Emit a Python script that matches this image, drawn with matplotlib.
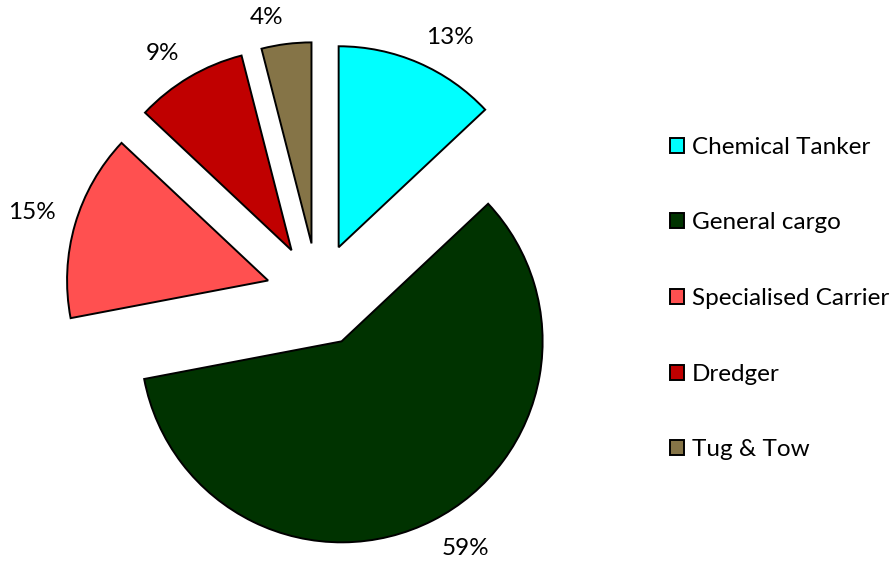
import numpy as np
import matplotlib.pyplot as plt

# vessel types and their share of the fleet (%)
categories = ['Chemical Tanker', 'General cargo', 'Specialised Carrier', 'Dredger', 'Tug & Tow']
shares = [13, 59, 15, 9, 4]
colors = ['#00FFFF', '#003300', '#FF5050', '#C00000', '#857447']

plt.rcParams['font.family'] = ['Lato', 'DejaVu Sans']

fig = plt.figure(figsize=(8.92, 5.61), dpi=100)
ax = fig.add_axes([0, 0, 1, 1])

R = 201
# explode is in data units here (1 unit = 1 px)
wedges, texts, autotexts = ax.pie(
    shares,
    colors=colors,
    explode=[52] * len(shares),
    startangle=90,
    counterclock=False,
    radius=R,
    center=(318, 266),
    autopct='%1.0f%%',
    wedgeprops={'edgecolor': 'black', 'linewidth': 1.4},
    textprops={'fontsize': 17.5, 'color': 'black'},
)

ax.set_xlim(0, 892)
ax.set_ylim(0, 561)
ax.set_aspect('equal')
ax.axis('off')

# percent labels outside the wedge: nearest corner sits on the mid ray
for w, t in zip(wedges, autotexts):
    th = np.deg2rad((w.theta1 + w.theta2) / 2)
    cx, cy = w.center
    d = 1.1 * R
    t.set_position((cx + d * np.cos(th), cy + d * np.sin(th)))
    t.set_ha('left' if np.cos(th) > 0 else 'right')
    t.set_va('baseline' if np.sin(th) > 0 else 'top')

leg = fig.legend(
    wedges, categories,
    loc='upper left',
    bbox_to_anchor=(660 / 892, 1 - 127 / 561),
    frameon=False,
    fontsize=17.5,
    handlelength=0.58,
    handleheight=0.58,
    handletextpad=0.34,
    labelspacing=2.25,
    borderaxespad=0,
)

plt.savefig('out.png', dpi=100)
